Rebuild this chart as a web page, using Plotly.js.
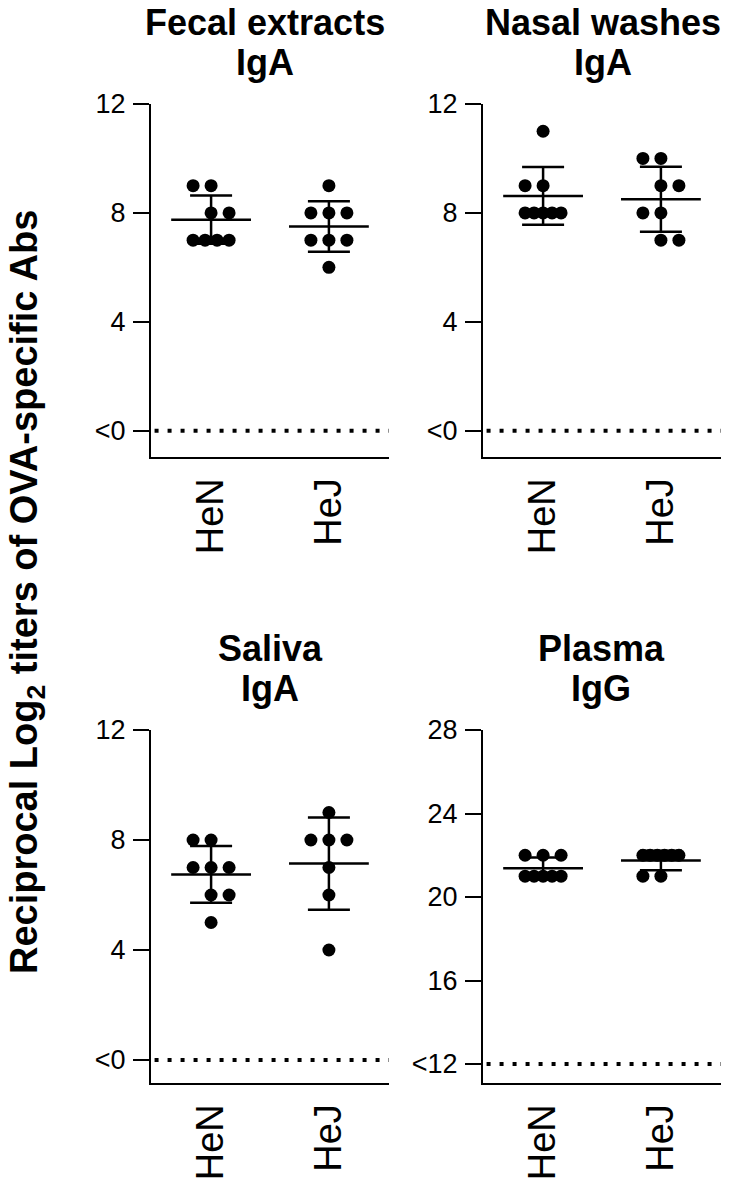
<!DOCTYPE html>
<html><head><meta charset="utf-8">
<script src="https://cdn.plot.ly/plotly-3.0.1.min.js"></script>
<style>html,body{margin:0;padding:0;background:#fff}#chart{width:735px;height:1190px}</style>
</head><body><div id="chart"></div>
<script>
// ---- data ----
const groups = ['HeN', 'HeJ'];
const panelTitles = [['Fecal extracts', 'IgA'], ['Nasal washes', 'IgA'], ['Saliva', 'IgA'], ['Plasma', 'IgG']];
const fecalHeN  = [9, 9, 8, 8, 7, 7, 7, 7];
const fecalHeJ  = [9, 8, 8, 8, 7, 7, 7, 6];
const nasalHeN  = [11, 9, 9, 8, 8, 8, 8, 8];
const nasalHeJ  = [10, 10, 9, 9, 8, 8, 7, 7];
const salivaHeN = [8, 8, 7, 7, 7, 6, 6, 5];
const salivaHeJ = [9, 8, 8, 8, 7, 6, 4];
const plasmaHeN = [22, 22, 22, 21, 21, 21, 21, 21];
const plasmaHeJ = [22, 22, 22, 22, 22, 22, 21, 21];
const yTickVals = [[0, 4, 8, 12], [0, 4, 8, 12], [0, 4, 8, 12], [12, 16, 20, 24, 28]];
const yTickText = [['<0', '4', '8', '12'], ['<0', '4', '8', '12'], ['<0', '4', '8', '12'], ['<12', '16', '20', '24', '28']];
const detectionLimit = [0, 0, 0, 12];
const yAxisTitle = 'Reciprocal Log<sub>2</sub> titers of OVA-specific Abs';

const panelData = [[fecalHeN, fecalHeJ], [nasalHeN, nasalHeJ], [salivaHeN, salivaHeJ], [plasmaHeN, plasmaHeJ]];

// ---- layout geometry (pixels) ----
const W = 735, H = 1190;
const panels = [
  {x0: 151, x1: 389, yTop: 104, yBot: 457, yRange: [-0.966, 12], titleX: 265, titleY: [22, 62]},
  {x0: 483, x1: 721, yTop: 104, yBot: 457, yRange: [-0.966, 12], titleX: 603, titleY: [22, 62]},
  {x0: 151, x1: 389, yTop: 730, yBot: 1083, yRange: [-0.836, 12], titleX: 270, titleY: [648, 688]},
  {x0: 483, x1: 721, yTop: 730, yBot: 1083, yRange: [11.09, 28], titleX: 601, titleY: [648, 688]}
];
const xRange = [-0.51, 1.51];
const FONT = 'Liberation Sans, Arial, Helvetica, sans-serif';

function mean(a) { return a.reduce((s, v) => s + v, 0) / a.length; }
function sd(a) { const m = mean(a); return Math.sqrt(a.reduce((s, v) => s + (v - m) * (v - m), 0) / (a.length - 1)); }

function spread(vals, center, pxPerUnit) {
  const counts = {};
  vals.forEach(v => counts[v] = (counts[v] || 0) + 1);
  const uniq = [...new Set(vals)].sort((a, b) => b - a);
  const side = {}; let t = -1;
  uniq.forEach(v => { if (counts[v] === 2) { side[v] = t; t = -t; } else side[v] = 0; });
  const seen = {};
  return vals.map(v => {
    const n = counts[v];
    const i = (seen[v] = (seen[v] || 0) + 1) - 1;
    const s = Math.min(18, 36 / Math.max(n - 1, 1));
    let off = (i - (n - 1) / 2) * s;
    if (n === 2) off += side[v] * s / 2;
    return center + off / pxPerUnit;
  });
}

const traces = [];
const layout = {
  width: W, height: H, margin: {l: 0, r: 0, t: 0, b: 0},
  paper_bgcolor: '#fff', plot_bgcolor: '#fff', showlegend: false,
  font: {family: FONT, color: '#000'},
  shapes: [], annotations: []
};

let titleCount = 0;
panels.forEach((p, k) => {
  const sfx = k === 0 ? '' : String(k + 1);
  const xa = 'x' + sfx, ya = 'y' + sfx;
  const pxPerUnit = (p.x1 - p.x0) / (xRange[1] - xRange[0]);
  layout['xaxis' + sfx] = {
    domain: [p.x0 / W, p.x1 / W], range: xRange, anchor: ya,
    tickvals: [0, 1], ticktext: groups, tickangle: -90, ticks: '',
    tickfont: {size: 38, family: FONT, color: '#000'},
    ticklabelstandoff: 4,
    showline: true, linewidth: 2, linecolor: '#000', showgrid: false, zeroline: false, fixedrange: true
  };
  layout['yaxis' + sfx] = {
    domain: [1 - p.yBot / H, 1 - p.yTop / H], range: p.yRange, anchor: xa,
    tickvals: yTickVals[k], ticktext: yTickText[k], ticks: 'outside', ticklen: 16, tickwidth: 2, tickcolor: '#000',
    tickfont: {size: 27, family: FONT, color: '#000'},
    ticklabelstandoff: 2,
    showline: true, linewidth: 2, linecolor: '#000', showgrid: false, zeroline: false, fixedrange: true
  };
  layout.shapes.push({
    type: 'line', xref: xa + ' domain', yref: ya, x0: 0.015, x1: 1, y0: detectionLimit[k], y1: detectionLimit[k],
    line: {color: '#000', width: 4, dash: '4px,9px'}
  });
  panelTitles[k].forEach((line, j) => {
    layout.annotations.push({
      text: line, xref: 'paper', yref: 'paper', x: p.titleX / W, y: 1 - p.titleY[j] / H,
      xanchor: 'center', yanchor: 'middle', showarrow: false,
      font: {size: 36, family: FONT, weight: 'bold', color: '#000'}
    });
    titleCount++;
  });
  panelData[k].forEach((vals, g) => {
    traces.push({
      type: 'scatter', mode: 'markers', xaxis: xa, yaxis: ya,
      x: spread(vals, g, pxPerUnit), y: vals,
      marker: {size: 13, color: '#000'}, hoverinfo: 'skip', cliponaxis: false
    });
    traces.push({
      type: 'scatter', mode: 'markers', xaxis: xa, yaxis: ya,
      x: [g], y: [mean(vals)],
      marker: {symbol: 'line-ew', size: 57, line: {width: 2.5, color: '#000'}, color: '#000'},
      error_y: {type: 'data', array: [sd(vals)], visible: true, color: '#000', thickness: 2.5, width: 21},
      hoverinfo: 'skip', cliponaxis: false
    });
  });
});

layout.annotations.push({
  text: yAxisTitle, xref: 'paper', yref: 'paper', x: 27 / W, y: 1 - 592 / H,
  xanchor: 'center', yanchor: 'middle', textangle: -90, showarrow: false,
  font: {size: 38, family: FONT, weight: 'bold', color: '#000'}
});

Plotly.newPlot('chart', traces, layout, {staticPlot: true, displayModeBar: false});
</script>
</body></html>
